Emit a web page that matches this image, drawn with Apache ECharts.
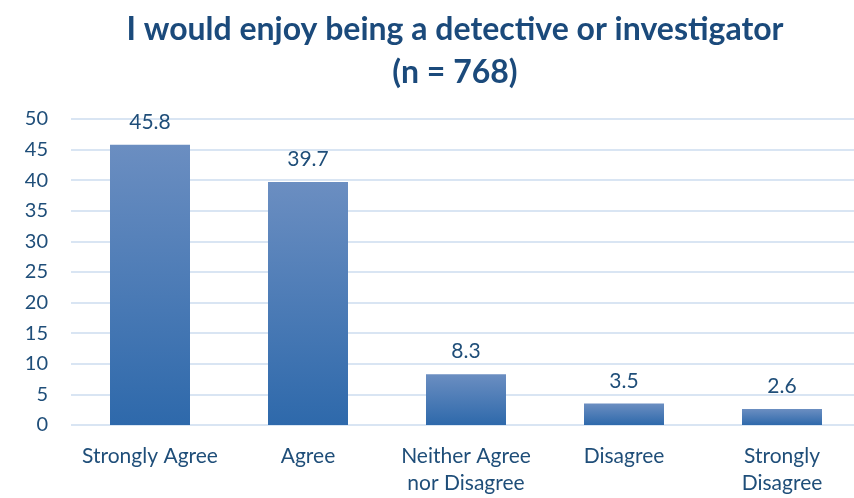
<!DOCTYPE html>
<html><head><meta charset="utf-8">
<script src="https://cdn.jsdelivr.net/npm/echarts@6/dist/echarts.min.js"></script>
<style>html,body{margin:0;padding:0;background:#fff;overflow:hidden;width:854px;height:498px}#c{width:861px;height:498px}</style>
</head><body><div id="c"></div>
<script>
const categories = ['Strongly Agree', 'Agree', 'Neither Agree\nnor Disagree', 'Disagree', 'Strongly\nDisagree'];
const values = [45.8, 39.7, 8.3, 3.5, 2.6];
const titleLines = ['I would enjoy being a detective or investigator', '(n = 768)'];

const chart = echarts.init(document.getElementById('c'), null, {renderer: 'canvas'});
const txt = '#1f4e79';
const font = 'Lato, "Open Sans", sans-serif';
chart.setOption({
  animation: false,
  title: {
    text: titleLines.join('\n'),
    left: 450, top: 3, textAlign: 'center',
    textStyle: {fontFamily: font, fontSize: 32, fontWeight: 'bold', color: '#1b4a7b', lineHeight: 43}
  },
  grid: {left: 71, right: 0, top: 119, bottom: 73, containLabel: false},
  xAxis: {
    type: 'category', data: categories,
    axisLine: {show: false}, axisTick: {show: false},
    axisLabel: {fontFamily: font, fontSize: 21, color: txt, lineHeight: 27, margin: 18, interval: 0}
  },
  yAxis: {
    type: 'value', min: 0, max: 50, interval: 5,
    axisLine: {show: false}, axisTick: {show: false},
    axisLabel: {fontFamily: font, fontSize: 20, color: txt, margin: 23},
    splitLine: {lineStyle: {color: '#d9e5f3', width: 2}}
  },
  series: [{
    type: 'bar', data: values, barWidth: 80,
    itemStyle: {color: new echarts.graphic.LinearGradient(0, 0, 0, 1, [
      {offset: 0, color: '#6b8ec1'}, {offset: 1, color: '#2e69ab'}
    ], false)},
    label: {show: true, position: 'top', distance: 12, fontFamily: font, fontSize: 21, color: txt}
  }]
});
</script></body></html>
